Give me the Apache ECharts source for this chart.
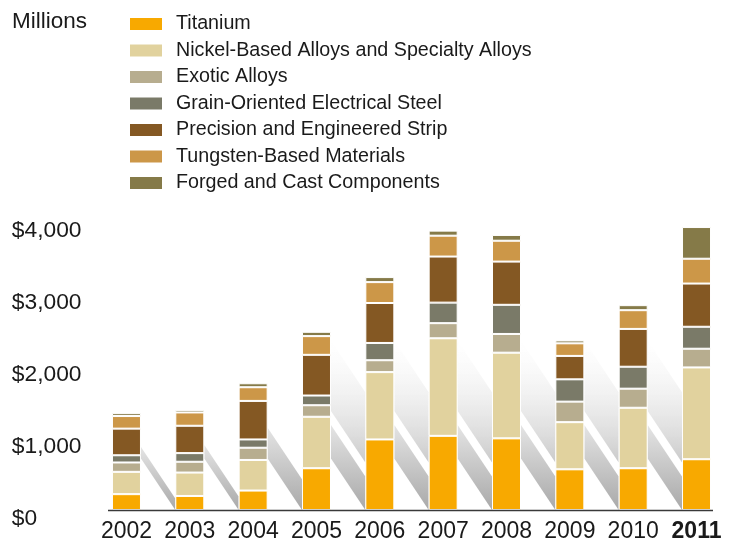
<!DOCTYPE html>
<html>
<head>
<meta charset="utf-8">
<script src="https://cdn.jsdelivr.net/npm/echarts@6/dist/echarts.min.js"></script>
<style>
  html, body { margin: 0; padding: 0; background: #fff; }
  #salesChart { width: 735px; height: 543px; }
</style>
</head>
<body>
<div id="salesChart"></div>
<script>
  const years = ['2002', '2003', '2004', '2005', '2006', '2007', '2008', '2009', '2010', '2011']
  const titanium = [220, 195, 270, 580, 980, 1030, 995, 565, 580, 705]
  const nickel = [310, 325, 425, 715, 935, 1355, 1190, 655, 840, 1275]
  const exotic = [130, 150, 170, 160, 165, 210, 260, 285, 265, 260]
  const grainSteel = [100, 120, 115, 135, 240, 285, 405, 310, 305, 305]
  const strip = [370, 380, 535, 565, 555, 640, 600, 325, 525, 600]
  const tungsten = [175, 185, 190, 260, 290, 290, 290, 175, 260, 345]
  const forged = [40, 35, 55, 60, 70, 70, 80, 40, 70, 440]
  const yTicks = [0, 1000, 2000, 3000, 4000]

  const seriesList = [
    { name: 'Titanium', data: titanium, color: '#f8a900' },
    { name: 'Nickel-Based Alloys and Specialty Alloys', data: nickel, color: '#e1d29e' },
    { name: 'Exotic Alloys', data: exotic, color: '#b7ad8f' },
    { name: 'Grain-Oriented Electrical Steel', data: grainSteel, color: '#7a7a68' },
    { name: 'Precision and Engineered Strip', data: strip, color: '#845823' },
    { name: 'Tungsten-Based Materials', data: tungsten, color: '#cc9748' },
    { name: 'Forged and Cast Components', data: forged, color: '#857a48' }
  ]

  const font = "'Liberation Sans', Arial, sans-serif"
  const textColor = '#1a1a1a'
  const barWidth = 29

  // totals per year, used for the slanted shadows between bars
  const totals = years.map(function (y, i) {
    return seriesList.reduce(function (s, item) { return s + item.data[i] }, 0)
  })
  const shadowData = totals.slice(0, totals.length - 1).map(function (t, i) { return [i, t] })

  function shadowItem (params, api) {
    const idx = api.value(0)
    const total = api.value(1)
    const center = api.coord([idx, 0])
    const band = api.size([1, 0])[0]
    const xr = center[0] + barWidth / 2
    const w = band - barWidth
    const drop = w * 1.5
    const yBase = center[1]
    const lowTop = api.coord([idx, Math.min(total * 0.65, 1180)])[1]
    const children = [{
      type: 'polygon',
      shape: { points: [[xr, lowTop], [xr + w, lowTop + drop], [xr + w, yBase], [xr, yBase - drop]] },
      style: {
        fill: new echarts.graphic.LinearGradient(0, 0, 0, 1, [
          { offset: 0, color: '#e4e4e4' },
          { offset: 1, color: '#a9a9a9' }
        ])
      }
    }]
    if (total > 2000) {
      const upTop = api.coord([idx, Math.min(total, 2350)])[1]
      const upBottom = lowTop - 14
      children.push({
        type: 'polygon',
        shape: { points: [[xr, upTop], [xr + w, upTop + drop], [xr + w, upBottom + drop], [xr, upBottom]] },
        style: {
          fill: new echarts.graphic.LinearGradient(0, 0, 0, 1, [
            { offset: 0, color: 'rgba(240,240,240,0)' },
            { offset: 1, color: '#cacaca' }
          ])
        }
      })
    }
    return { type: 'group', children: children }
  }

  const myChart = echarts.init(document.getElementById('salesChart'))
  const option = {
    animation: false,
    title: {
      text: 'Millions',
      left: 7,
      top: 5,
      textStyle: { fontFamily: font, fontSize: 22.5, fontWeight: 'normal', color: textColor }
    },
    legend: {
      orient: 'vertical',
      left: 123,
      top: 7,
      itemWidth: 34,
      itemHeight: 14,
      itemGap: 2.5,
      icon: 'rect',
      data: seriesList.map(function (s) { return s.name }),
      textStyle: { fontFamily: font, fontSize: 19.7, lineHeight: 24, color: textColor, padding: [0, 0, 0, 8] }
    },
    grid: {
      left: 94.8,
      right: 6.8,
      top: 222,
      bottom: 33
    },
    xAxis: {
      type: 'category',
      data: years,
      axisLine: { show: false },
      axisTick: { show: false },
      axisLabel: {
        interval: 0,
        margin: 10,
        fontFamily: font,
        fontSize: 23,
        color: textColor,
        formatter: function (v) { return v === '2011' ? '{b|' + v + '}' : v },
        rich: { b: { fontFamily: font, fontSize: 23, fontWeight: 'bold', color: textColor } }
      }
    },
    yAxis: {
      type: 'value',
      min: yTicks[0],
      max: yTicks[yTicks.length - 1],
      interval: 1000,
      splitLine: { show: false },
      axisLine: { show: false },
      axisTick: { show: false },
      axisLabel: {
        align: 'left',
        verticalAlign: 'top',
        lineHeight: 18,
        margin: 83,
        fontFamily: font,
        fontSize: 22.8,
        color: textColor,
        formatter: function (v) { return '$' + v.toLocaleString('en-US') }
      }
    },
    graphic: [{
      type: 'line',
      shape: { x1: 108, y1: 510.5, x2: 713, y2: 510.5 },
      style: { stroke: '#3a3a3a', lineWidth: 1.5 },
      z: 10
    }],
    series: [{
      type: 'custom',
      silent: true,
      z: 1,
      renderItem: shadowItem,
      data: shadowData
    }].concat(seriesList.map(function (s) {
      return {
        name: s.name,
        type: 'bar',
        stack: 'total',
        barWidth: barWidth,
        z: 3,
        itemStyle: { color: s.color, borderColor: '#ffffff', borderWidth: 1 },
        data: s.data
      }
    }))
  }
  myChart.setOption(option)
</script>
</body>
</html>
